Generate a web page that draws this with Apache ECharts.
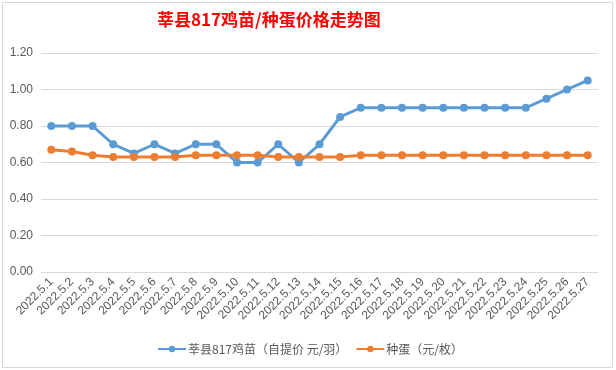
<!DOCTYPE html>
<html>
<head>
<meta charset="utf-8">
<script src="https://cdn.jsdelivr.net/npm/echarts@6/dist/echarts.min.js"></script>
<style>html,body{margin:0;padding:0;background:#fff;}#c{width:616px;height:370px;}</style>
</head>
<body>
<div id="c"></div>
<script>
var categories = ['2022.5.1','2022.5.2','2022.5.3','2022.5.4','2022.5.5','2022.5.6','2022.5.7','2022.5.8','2022.5.9','2022.5.10','2022.5.11','2022.5.12','2022.5.13','2022.5.14','2022.5.15','2022.5.16','2022.5.17','2022.5.18','2022.5.19','2022.5.20','2022.5.21','2022.5.22','2022.5.23','2022.5.24','2022.5.25','2022.5.26','2022.5.27'];
var chickPrice = [0.80,0.80,0.80,0.70,0.65,0.70,0.65,0.70,0.70,0.60,0.60,0.70,0.60,0.70,0.85,0.90,0.90,0.90,0.90,0.90,0.90,0.90,0.90,0.90,0.95,1.00,1.05];
var eggPrice = [0.67,0.66,0.64,0.63,0.63,0.63,0.63,0.64,0.64,0.64,0.64,0.63,0.63,0.63,0.63,0.64,0.64,0.64,0.64,0.64,0.64,0.64,0.64,0.64,0.64,0.64,0.64];
var seriesNames = ['莘县817鸡苗（自提价 元/羽）','种蛋（元/枚）'];
var titleText = '莘县817鸡苗/种蛋价格走势图';

var chart = echarts.init(document.getElementById('c'));
var font = '"Noto Sans CJK SC", "Noto Sans", sans-serif';
chart.setOption({
  animation: false,
  backgroundColor: '#fff',
  graphic: [{
    type: 'rect', shape: {x: 2.5, y: 2.5, width: 610, height: 365},
    style: {fill: 'none', stroke: '#d9d9d9', lineWidth: 1}, z: -1
  }],
  title: {
    text: titleText, left: 157, top: 11, padding: 0,
    textStyle: {color: '#ff0000', fontSize: 17, fontWeight: 'bold', fontFamily: font}
  },
  legend: {
    bottom: 15, left: 157, padding: 0, itemWidth: 28, itemHeight: 8, itemGap: 8,
    textStyle: {color: '#595959', fontSize: 12, fontFamily: font, padding: [0, 0, 0, -3]},
    data: seriesNames
  },
  grid: {left: 41, right: 18, top: 53, bottom: 98, containLabel: false},
  xAxis: {
    type: 'category', data: categories, boundaryGap: true,
    axisLine: {lineStyle: {color: '#d9d9d9'}},
    axisTick: {show: false},
    axisLabel: {rotate: 45, margin: 8, interval: 0, color: '#595959', fontSize: 12, fontFamily: '"Liberation Sans", sans-serif'}
  },
  yAxis: {
    type: 'value', min: 0, max: 1.2, interval: 0.2,
    axisLine: {show: false}, axisTick: {show: false},
    splitLine: {lineStyle: {color: '#d9d9d9'}},
    axisLabel: {color: '#595959', fontSize: 12, margin: 8, fontFamily: '"Liberation Sans", sans-serif', formatter: function(v){return v.toFixed(2);}}
  },
  series: [{
    name: seriesNames[0], type: 'line', data: chickPrice,
    symbol: 'circle', symbolSize: 8,
    lineStyle: {color: '#5b9bd5', width: 3},
    itemStyle: {color: '#5b9bd5'}
  }, {
    name: seriesNames[1], type: 'line', data: eggPrice,
    symbol: 'circle', symbolSize: 8,
    lineStyle: {color: '#ed7d31', width: 3},
    itemStyle: {color: '#ed7d31'}
  }]
});
</script>
</body>
</html>
